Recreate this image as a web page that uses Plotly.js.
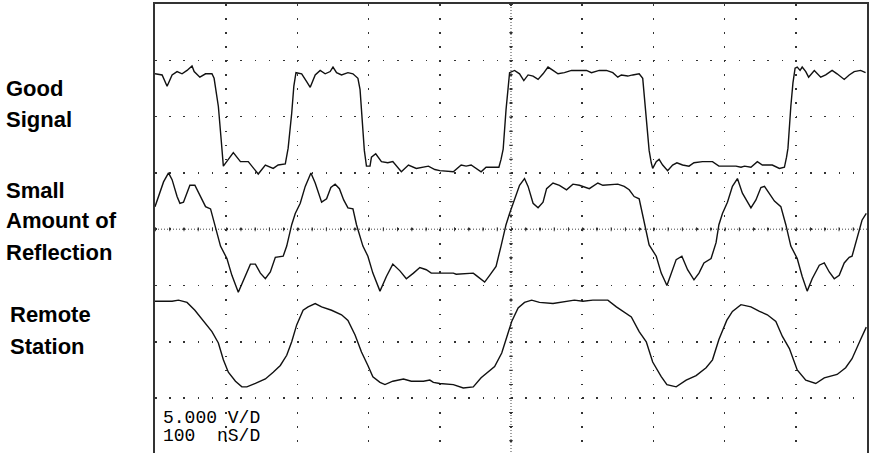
<!DOCTYPE html>
<html>
<head>
<meta charset="utf-8">
<script src="https://cdn.plot.ly/plotly-3.0.1.min.js"></script>
<style>html,body{margin:0;padding:0;background:#fff;}#chart{width:870px;height:453px;}</style>
</head>
<body>
<div id="chart"></div>
<script>
// Time in ns (100 ns/div), amplitude in V (5 V/div)
const timeGood = [0,10,17,24,31,38,45,52,55,63,71,80,83,89,93,94,96,103,110,120,131,145,155,166,173,183,187,192,195,198,206,213,218,225,232,239,246,250,255,262,271,278,285,288,292,294,297,302,304,310,318,327,334,346,356,367,384,393,400,419,430,437,444,451,458,465,483,486,489,493,496,498,505,512,518,524,531,538,545,552,559,566,575,585,606,613,624,634,643,650,655,664,671,680,685,687,691,694,697,699,704,708,713,720,727,733,741,750,757,769,783,792,802,816,823,828,837,846,853,867,877,884,887,889,893,896,899,902,906,909,914,918,926,935,942,951,958,968,975,982,991,998];
const voltGood = [13.8,13.7,12.7,13.7,14.0,13.8,14.1,14.5,14.0,13.5,13.8,13.8,13.4,10.9,7.9,7.0,5.6,6.2,6.8,6.0,6.0,4.9,5.7,5.4,5.7,5.8,7.2,10.3,12.7,13.9,13.8,13.1,12.6,13.7,14.1,13.8,14.0,14.4,13.9,13.7,13.9,13.8,13.4,12.4,8.2,7.0,5.6,5.6,6.4,6.7,6.0,5.9,6.0,5.1,5.7,5.4,5.6,5.3,5.2,5.1,5.7,5.6,5.7,5.4,5.1,5.5,5.5,6.2,7.1,10.6,12.7,13.9,14.1,13.8,13.2,13.7,13.6,13.3,13.8,14.4,14.1,13.8,13.9,14.1,14.1,13.9,14.1,14.1,13.9,13.5,13.7,13.6,13.7,13.8,13.4,11.8,9.1,7.0,5.9,5.4,6.0,6.2,5.7,5.2,5.7,5.9,5.7,5.6,5.9,6.0,6.0,5.6,5.6,5.6,5.5,5.6,5.5,6.0,5.7,5.7,5.4,5.5,6.4,7.2,10.9,13.0,14.3,14.4,14.1,14.4,14.0,13.5,14.1,13.5,13.7,14.1,13.8,13.3,13.7,14.0,14.1,13.9];

const timeRefl = [0,5,12,19,24,31,35,40,45,49,56,64,71,78,82,87,92,101,108,117,124,134,141,148,155,162,169,180,185,192,197,204,211,219,225,234,241,247,253,259,265,271,278,283,292,299,306,316,325,334,344,353,363,372,381,388,400,419,423,447,451,463,470,479,486,493,498,505,512,519,524,531,538,545,550,559,568,578,587,596,610,622,629,650,659,666,673,680,685,690,694,704,711,719,725,732,740,748,757,764,771,781,788,792,797,804,811,818,825,837,844,851,856,863,870,879,886,893,902,909,916,923,933,940,947,954,961,968,975,979,986,993,999];
const voltRefl = [2.0,2.9,4.2,5.0,4.4,2.9,2.3,2.4,3.3,3.9,3.9,2.9,2.0,1.8,0.8,-0.4,-1.5,-2.6,-4.1,-5.6,-4.5,-3.1,-3.1,-3.9,-4.4,-3.8,-2.5,-2.4,-1.5,0.4,1.4,2.3,3.8,5.0,4.1,2.4,2.7,3.7,4.0,3.6,2.6,1.9,1.8,0.4,-1.5,-2.4,-3.9,-5.5,-4.2,-3.1,-3.7,-4.4,-3.9,-3.4,-3.6,-3.9,-3.9,-3.9,-4.0,-3.9,-4.1,-4.7,-4.1,-3.3,-1.5,0.4,1.4,2.6,3.9,4.5,3.8,2.3,1.9,2.4,3.6,4.1,3.9,3.5,4.0,3.9,3.6,4.1,3.9,4.0,3.8,3.5,2.9,2.7,1.3,-0.1,-1.4,-2.4,-3.9,-5.0,-3.9,-2.7,-2.4,-3.6,-4.5,-3.9,-3.0,-2.6,-1.2,0.4,1.4,2.4,3.8,4.5,3.2,1.9,2.6,3.7,3.8,3.2,2.5,2.0,0.4,-1.5,-2.6,-4.2,-5.5,-4.4,-3.2,-3.0,-3.8,-4.4,-4.1,-3.0,-2.5,-2.4,-0.7,0.8,1.4];

const timeRemote = [0,24,33,45,56,68,80,89,96,103,113,122,129,141,155,166,176,185,192,199,208,215,225,234,248,262,271,281,290,299,306,316,323,334,349,360,377,386,391,400,419,433,447,458,477,487,494,501,510,519,529,540,559,578,589,601,615,636,648,669,680,690,699,711,719,732,746,760,774,783,792,803,811,823,837,849,860,872,881,891,902,914,928,940,958,970,979,991,999];
const voltRemote = [-6.4,-6.4,-6.3,-6.5,-7.2,-8.1,-9.1,-10.1,-11.6,-12.7,-13.5,-14.0,-14.0,-13.7,-13.3,-12.7,-12.1,-11.2,-10.0,-8.5,-7.2,-6.9,-6.6,-6.9,-7.2,-7.6,-8.1,-9.4,-10.9,-12.1,-13.1,-13.6,-13.8,-13.5,-13.3,-13.5,-13.5,-13.4,-13.6,-13.7,-13.8,-14.1,-14.0,-13.2,-12.2,-11.0,-9.5,-8.2,-7.0,-6.5,-6.3,-6.5,-6.6,-6.4,-6.3,-6.4,-6.3,-6.3,-6.9,-7.8,-9.1,-10.0,-11.8,-13.1,-13.8,-14.0,-13.4,-13.0,-12.3,-11.6,-9.8,-8.1,-7.3,-6.7,-6.9,-7.3,-7.6,-8.2,-9.5,-10.6,-12.5,-13.4,-13.7,-13.2,-12.9,-12.3,-11.5,-9.8,-8.7];

const seriesLabels = [["Good", "Signal"], ["Small", "Amount of", "Reflection"], ["Remote", "Station"]];
const scopeText = ["5.000 V/D", "100\u00a0\u00a0nS/D"];

const W = 870, H = 453, ML = 155, MR = 3, MT = 4, MB = 0;
const PW = W - ML - MR, PH = H - MT - MB;
const pxX = px => (px - ML) / PW;
const pxY = py => (H - MB - py) / PH;

const lineStyle = {color: '#111', width: 1.4};
const traces = [
  {x: timeGood, y: voltGood, mode: 'lines', line: lineStyle, hoverinfo: 'skip'},
  {x: timeRefl, y: voltRefl, mode: 'lines', line: lineStyle, hoverinfo: 'skip'},
  {x: timeRemote, y: voltRemote, mode: 'lines', line: lineStyle, hoverinfo: 'skip'}
];

// label line positions (pixel centers of the cap height)
const labelRows = [
  {lines: seriesLabels[0], x: 4, ys: [88, 119.5]},
  {lines: seriesLabels[1], x: 4, ys: [190, 220.5, 253]},
  {lines: seriesLabels[2], x: 8, ys: [314, 346]}
];
const annotations = [];
labelRows.forEach(r => r.lines.forEach((t, i) => {
  annotations.push({text: '<b>' + t + '</b>', xref: 'paper', yref: 'paper', x: pxX(r.x), y: pxY(r.ys[i]),
    xanchor: 'left', yanchor: 'middle', showarrow: false,
    font: {family: 'Liberation Sans, Arial, sans-serif', size: 22, color: '#000'}});
}));
// scope readout: two lines in one annotation, tight line spacing from the small base size
annotations.push({
  text: scopeText.map(s => '<span style="font-size:18px">' + s + '</span>').join('<br>'),
  xref: 'paper', yref: 'paper', x: pxX(161), y: pxY(427), xanchor: 'left', yanchor: 'middle', showarrow: false,
  font: {family: 'Liberation Mono, DejaVu Sans Mono, monospace', size: 14.2, color: '#000'}
});

const yTop = 20, yBot = 20 - PH / (56.3 / 5);
const vSpacing = PH / (yTop - yBot) * 5 / 4;   // px between dots on vertical grid lines
const hSpacing = PW / 10 / 5;                   // px between dots on horizontal grid lines

const layout = {
  width: W, height: H,
  margin: {l: ML, r: MR, t: MT, b: MB, pad: 0},
  paper_bgcolor: '#fff', plot_bgcolor: '#fff',
  showlegend: false,
  xaxis: {range: [0, 1000], dtick: 100, tick0: 0, side: 'top', showticklabels: false, ticks: '',
    showline: true, linecolor: '#333', linewidth: 2, zeroline: false,
    showgrid: true, gridcolor: '#333', gridwidth: 1.5, griddash: '1.5px,' + (vSpacing - 1.5).toFixed(2) + 'px'},
  yaxis: {range: [yBot, yTop], dtick: 5, tick0: 0, showticklabels: false, ticks: '',
    showline: true, mirror: true, linecolor: '#333', linewidth: 2, zeroline: false,
    showgrid: true, gridcolor: '#333', gridwidth: 1.5, griddash: '1.5px,' + (hSpacing - 1.5).toFixed(2) + 'px'},
  shapes: [
    {type: 'line', xref: 'x', yref: 'y', x0: 0, x1: 1000, y0: 0, y1: 0, line: {color: '#444', width: 1, dash: '1px,2px'}, layer: 'below'},
    {type: 'line', xref: 'x', yref: 'y', x0: 0, x1: 1000, y0: 0, y1: 0, line: {color: '#444', width: 4, dash: '1px,' + (hSpacing - 1).toFixed(2) + 'px'}, layer: 'below'},
    {type: 'line', xref: 'x', yref: 'y', x0: 500, x1: 500, y0: yTop, y1: yBot, line: {color: '#444', width: 1, dash: '1px,2px'}, layer: 'below'},
    {type: 'line', xref: 'x', yref: 'y', x0: 500, x1: 500, y0: yTop, y1: yBot, line: {color: '#444', width: 4, dash: '1px,' + (vSpacing - 1).toFixed(2) + 'px'}, layer: 'below'}
  ],
  annotations: annotations
};

Plotly.newPlot('chart', traces, layout, {staticPlot: true, displayModeBar: false});
</script>
</body>
</html>
